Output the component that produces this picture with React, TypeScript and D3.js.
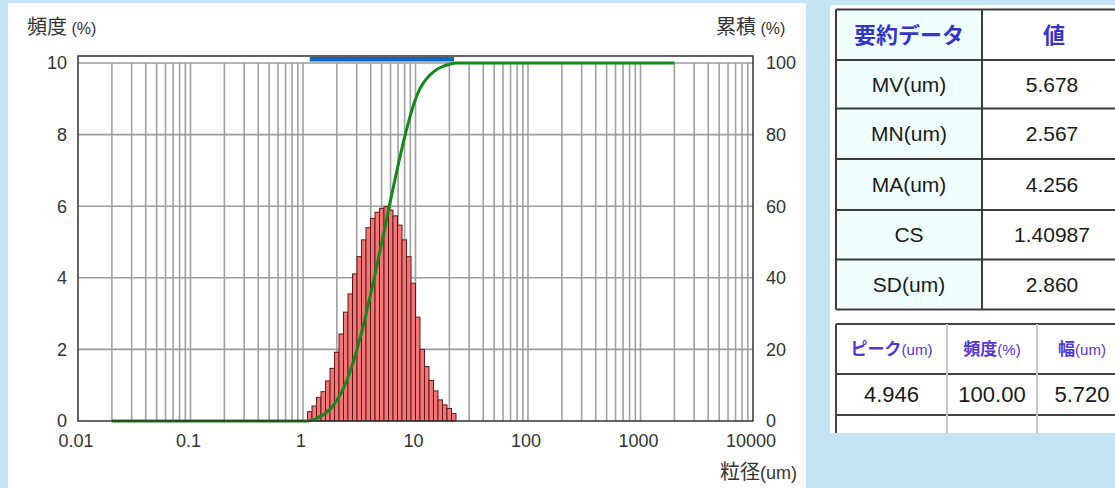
import React from "react";
import * as d3 from "d3";

const width = 1115;
const height = 488;

// particle size channel edges (um)
const binEdges = [
  1.096, 1.202, 1.318, 1.445, 1.585, 1.738, 1.905, 2.089, 2.291, 2.512, 2.754,
  3.02, 3.311, 3.631, 3.981, 4.365, 4.786, 5.248, 5.754, 6.31, 6.918, 7.586,
  8.318, 9.12, 10.0, 10.96, 12.02, 13.18, 14.45, 15.85, 17.38, 19.05, 20.89, 22.91,
];
// frequency (%) per channel
const freq = [
  0.26, 0.42, 0.66, 0.82, 1.12, 1.47, 1.92, 2.43, 3.04, 3.55, 4.11, 4.59, 5.06,
  5.4, 5.66, 5.83, 5.94, 5.99, 5.89, 5.73, 5.47, 5.06, 4.59, 3.85, 2.9, 2.0,
  1.52, 1.13, 0.84, 0.59, 0.45, 0.35, 0.21,
];

const sizeTicks = [0.01, 0.1, 1, 10, 100, 1000, 10000];
const freqTicks = [0, 2, 4, 6, 8, 10];
const cumTicks = [0, 20, 40, 60, 80, 100];
const curveStart = 0.02; // cumulative line extent
const curveEnd = 2000;
const rangeLo = 1.15; // blue measured range strip
const rangeHi = 22;

const summaryLabels = ["MV(um)", "MN(um)", "MA(um)", "CS", "SD(um)"];
const summaryValues = ["5.678", "2.567", "4.256", "1.40987", "2.860"];
const peakHeaders = ["ピーク", "頻度", "幅"];
const peakUnits = ["(um)", "(%)", "(um)"];
const peakValues = ["4.946", "100.00", "5.720"];

const plot = { left: 78, right: 753, top: 63, frameTop: 56, bottom: 421 };
const latin = "'Liberation Sans', Arial, sans-serif";
const cjk = "'Noto Sans CJK JP', 'Liberation Sans', sans-serif";

const App = () => {
  const x = d3.scaleLog().domain([0.01, 10000]).range([plot.left, plot.right]);
  const yFreq = d3.scaleLinear().domain([0, 10]).range([plot.bottom, plot.top]);
  const yCum = d3.scaleLinear().domain([0, 100]).range([plot.bottom, plot.top]);

  const gridX = x.ticks().filter((t) => t > 0.01 && t < 10000);

  const total = d3.sum(freq);
  const cum = d3.cumsum(freq).map((v) => (v / total) * 100);
  const cumPts: [number, number][] = [
    [curveStart, 0],
    [binEdges[0], 0],
    ...binEdges.slice(1).map((e, i) => [e, cum[i]] as [number, number]),
    [curveEnd, 100],
  ];
  const line = d3
    .line<[number, number]>()
    .x((d) => x(d[0]))
    .y((d) => yCum(d[1]))
    .curve(d3.curveMonotoneX);

  // table layout
  const t1x = [836, 982, 1124];
  const t1y = [9.5, 60, 108.5, 159, 210, 259.5, 309.5];
  const t2x = [836, 947, 1037, 1127];
  const t2y = [324, 374, 415, 433];

  return (
    <svg width={width} height={height} style={{ position: "fixed", left: 0, top: 0 }}>
      <rect width={width} height={height} fill="#c4e4f4" />
      <rect x={8} y={3} width={798} height={485} fill="#fff" />
      <rect x={830} y={5} width={285} height={428} fill="#fff" />

      {/* grid */}
      {gridX.map((t) => (
        <line key={t} x1={x(t)} x2={x(t)} y1={plot.top} y2={plot.bottom} stroke="#a0a0a0" strokeWidth={1.6} />
      ))}
      {freqTicks.slice(1).map((t) => (
        <line key={t} x1={plot.left} x2={plot.right} y1={yFreq(t)} y2={yFreq(t)} stroke="#9c9c9c" strokeWidth={1.6} />
      ))}

      {/* bars */}
      {freq.map((v, i) => (
        <rect
          key={i}
          x={x(binEdges[i])}
          y={yFreq(v)}
          width={x(binEdges[i + 1]) - x(binEdges[i])}
          height={plot.bottom - yFreq(v)}
          fill="#f27676"
          stroke="#621818"
          strokeWidth={1}
        />
      ))}

      {/* range strip */}
      <rect x={x(rangeLo)} y={57} width={x(rangeHi) - x(rangeLo)} height={4.5} fill="#0a68c8" />

      <path d={line(cumPts) || ""} fill="none" stroke="#13891a" strokeWidth={3} />

      <rect
        x={plot.left}
        y={plot.frameTop}
        width={plot.right - plot.left}
        height={plot.bottom - plot.frameTop}
        fill="none"
        stroke="#333"
        strokeWidth={1.5}
      />

      {/* axis labels */}
      {freqTicks.map((t) => (
        <text key={t} x={67} y={yFreq(t)} dy="0.36em" textAnchor="end" fontSize={18} fontFamily={latin} fill="#333">
          {t}
        </text>
      ))}
      {cumTicks.map((t) => (
        <text key={t} x={766} y={yCum(t)} dy="0.36em" textAnchor="start" fontSize={18} fontFamily={latin} fill="#333">
          {t}
        </text>
      ))}
      {sizeTicks.map((t) => (
        <text key={t} x={x(t) - 2} y={441} dy="0.36em" textAnchor="middle" fontSize={18} fontFamily={latin} fill="#333">
          {String(t)}
        </text>
      ))}
      <text x={27} y={34} fontSize={20} fontFamily={cjk} fill="#333">
        頻度 <tspan fontSize={16} fontFamily={latin}>(%)</tspan>
      </text>
      <text x={716} y={34} fontSize={20} fontFamily={cjk} fill="#333">
        累積 <tspan fontSize={16} fontFamily={latin}>(%)</tspan>
      </text>
      <text x={797} y={479} textAnchor="end" fontSize={20} fontFamily={cjk} fill="#333">
        粒径<tspan fontSize={18} fontFamily={latin}>(um)</tspan>
      </text>

      {/* summary table */}
      <rect x={t1x[0]} y={t1y[0]} width={t1x[1] - t1x[0]} height={t1y[6] - t1y[0]} fill="#efffff" />
      {t1y.map((y, i) => (
        <line key={i} x1={t1x[0]} x2={t1x[2]} y1={y} y2={y} stroke="#3c3c3c" strokeWidth={2} />
      ))}
      {t1x.slice(0, 2).map((xx, i) => (
        <line key={i} x1={xx} x2={xx} y1={t1y[0]} y2={t1y[6]} stroke="#3c3c3c" strokeWidth={2} />
      ))}
      <text x={909} y={(t1y[0] + t1y[1]) / 2} dy="0.36em" textAnchor="middle" fontSize={22} fontWeight={700} fontFamily={cjk} fill="#3434c8">
        要約データ
      </text>
      <text x={1054} y={(t1y[0] + t1y[1]) / 2} dy="0.36em" textAnchor="middle" fontSize={22} fontWeight={700} fontFamily={cjk} fill="#3434c8">
        値
      </text>
      {summaryLabels.map((s, i) => (
        <g key={s}>
          <text x={909} y={(t1y[i + 1] + t1y[i + 2]) / 2} dy="0.36em" textAnchor="middle" fontSize={21} fontFamily={latin} fill="#1a1a1a">
            {s}
          </text>
          <text x={1052} y={(t1y[i + 1] + t1y[i + 2]) / 2} dy="0.36em" textAnchor="middle" fontSize={21} fontFamily={latin} fill="#1a1a1a">
            {summaryValues[i]}
          </text>
        </g>
      ))}

      {/* peak table */}
      {t2y.slice(0, 3).map((y, i) => (
        <line key={i} x1={t2x[0]} x2={t2x[3]} y1={y} y2={y} stroke="#444" strokeWidth={2} />
      ))}
      <line x1={t2x[0]} x2={t2x[0]} y1={t2y[0]} y2={t2y[3]} stroke="#444" strokeWidth={2} />
      {t2x.slice(1, 3).map((xx, i) => (
        <line key={i} x1={xx} x2={xx} y1={t2y[0]} y2={t2y[3]} stroke="#c8c8c8" strokeWidth={2} />
      ))}
      {peakHeaders.map((h, i) => (
        <text key={h} x={(t2x[i] + t2x[i + 1]) / 2} y={(t2y[0] + t2y[1]) / 2} dy="0.36em" textAnchor="middle" fontSize={17} fontWeight={700} fontFamily={cjk} fill="#5236d6">
          {h}
          <tspan fontSize={15} fontWeight={400} fontFamily={latin}>{peakUnits[i]}</tspan>
        </text>
      ))}
      {peakValues.map((v, i) => (
        <text key={v} x={(t2x[i] + t2x[i + 1]) / 2} y={(t2y[1] + t2y[2]) / 2} dy="0.36em" textAnchor="middle" fontSize={22} fontFamily={latin} fill="#1a1a1a">
          {v}
        </text>
      ))}
    </svg>
  );
};

export default App;
